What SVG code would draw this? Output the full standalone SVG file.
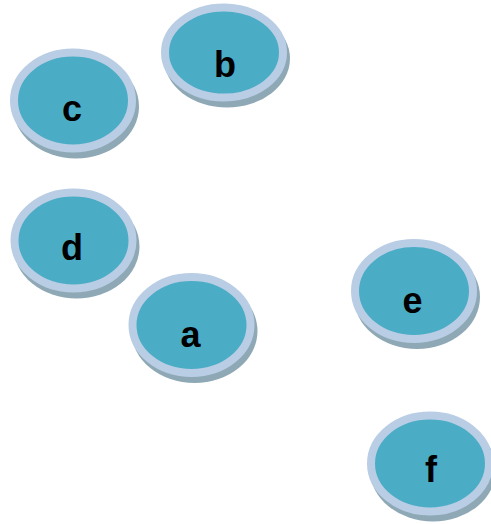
<svg xmlns="http://www.w3.org/2000/svg" width="491" height="524" viewBox="0 0 491 524">
<defs>
<style>
.sh{fill:#8ea9b5}
.n{fill:#4bacc6;stroke:#b9cde5;stroke-width:8}
.t{font-family:"Liberation Sans",Arial,sans-serif;font-weight:bold;font-size:36px;fill:#000;text-anchor:middle}
</style>
<g id="nd"><ellipse class="sh" cx="3" cy="6" rx="63" ry="52"/><ellipse class="n" cx="0" cy="0" rx="59" ry="48"/></g>
<g id="nds"><ellipse class="sh" cx="3" cy="6" rx="63" ry="49"/><ellipse class="n" cx="0" cy="0" rx="59" ry="45"/></g>
</defs>
<g id="connectors"></g>
<g id="node-b"><use href="#nds" x="224" y="52.5"/><text class="t" x="225" y="77">b</text></g>
<g id="node-c"><use href="#nd" x="73" y="100.5"/><text class="t" x="72" y="121">c</text></g>
<g id="node-d"><use href="#nd" x="73.5" y="240.5"/><text class="t" x="72" y="260">d</text></g>
<g id="node-a"><use href="#nd" x="191.5" y="325"/><text class="t" x="190.5" y="347">a</text></g>
<g id="node-e"><use href="#nd" x="414" y="291"/><text class="t" x="412.5" y="313">e</text></g>
<g id="node-f"><use href="#nd" x="430" y="463.5"/><text class="t" x="431" y="482">f</text></g>
</svg>
